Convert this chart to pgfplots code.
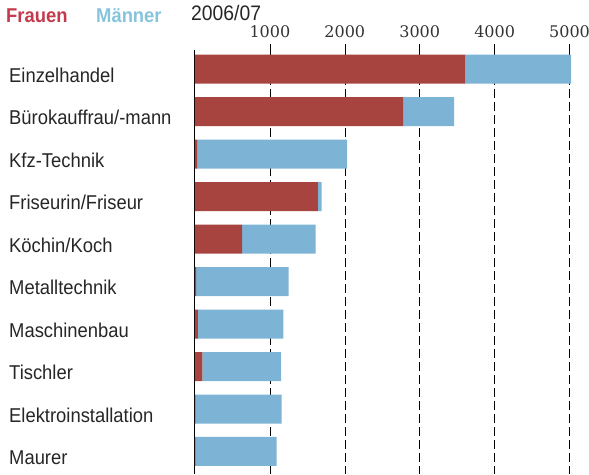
\documentclass[border=0pt]{standalone}
\usepackage{fontspec}
\setmainfont{Liberation Sans}
\newfontfamily\labelfont[FakeStretch=0.92]{Liberation Sans}
\newfontfamily\tickfont{DejaVu Serif}
\usepackage{pgfplots}
\pgfplotsset{compat=1.18}
\definecolor{cfrau}{HTML}{A8443F}
\definecolor{cmann}{HTML}{7DB4D6}
\definecolor{cfrautxt}{HTML}{C23A4C}
\definecolor{cmanntxt}{HTML}{86C4DC}
\definecolor{ctick}{HTML}{333333}

\begin{document}
\begin{tikzpicture}
\begin{axis}[
    scale only axis,
    width=394pt, height=424pt,
    xbar stacked,
    bar width=29pt,
    xmin=0, xmax=5260,
    ymin=-0.45, ymax=9.53,
    y dir=reverse,
    axis x line=top,
    axis y line=left,
    axis line style={-},
    x axis line style={draw=none},
    y axis line style={black, line width=1pt},
    xtick={1000,2000,3000,4000,5000},
    xticklabels={1000,2000,3000,4000,5000},
    xticklabel pos=right,
    xtick align=outside,
    major tick length=6pt,
    xtick style={black, line width=0.6pt},
    xticklabel shift=5pt,
    xticklabel style={font=\tickfont\fontsize{16}{16}\selectfont, text=ctick, inner sep=1pt},
    xmajorgrids,
    grid style={black, line width=0.6pt, dash pattern=on 9pt off 4pt},
    ytick={0,...,9},
    yticklabels={Einzelhandel, Bürokauffrau/-mann, Kfz-Technik, Friseurin/Friseur, Köchin/Koch, Metalltechnik, Maschinenbau, Tischler, Elektroinstallation, Maurer},
    ytick style={draw=none},
    yticklabel style={font=\labelfont\fontsize{20}{20}\selectfont, text=black!85, anchor=base west, inner xsep=0pt, xshift=-183pt, yshift=-13pt},
]
% Frauen
\addplot[fill=cfrau, draw=none] coordinates {
    (3610,0) (2780,1) (30,2) (1640,3) (630,4) (15,5) (40,6) (100,7) (10,8) (10,9)
};
% Maenner
\addplot[fill=cmann, draw=none] coordinates {
    (1410,0) (680,1) (2000,2) (50,3) (980,4) (1235,5) (1140,6) (1050,7) (1145,8) (1080,9)
};
\end{axis}
\node[anchor=west, inner sep=0pt, text=cfrautxt, font=\labelfont\bfseries\fontsize{20}{20}\selectfont] at (-189pt,458pt) {Frauen};
\node[anchor=west, inner sep=0pt, text=cmanntxt, font=\labelfont\bfseries\fontsize{20}{20}\selectfont] at (-99pt,458pt) {Männer};
\node[anchor=west, inner sep=0pt, text=black!85, font=\labelfont\fontsize{21}{21}\selectfont] at (-4pt,461pt) {2006/07};
\pgfresetboundingbox
\path (-195pt,0pt) rectangle (394pt,474pt);
\end{tikzpicture}
\end{document}
